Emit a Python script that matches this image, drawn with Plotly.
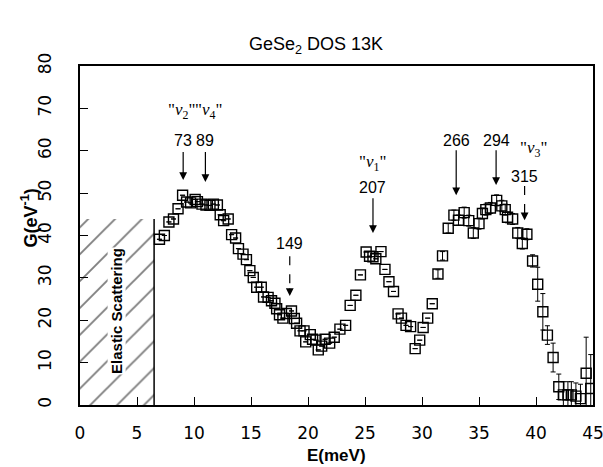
import plotly.graph_objects as go

# ---- data ----
energy = [6.97, 7.4, 7.8, 8.2, 8.6, 9.0, 9.35, 9.7, 10.1, 10.3,
          10.7, 11.05, 11.4, 11.7, 12.05, 12.3, 12.6, 13.0, 13.3, 13.65,
          13.9, 14.3, 14.6, 14.9, 15.2, 15.5, 15.9, 16.1, 16.5, 16.8,
          17.1, 17.25, 17.5, 17.8, 18.1, 18.55, 18.8, 19.0, 19.3, 19.65,
          19.8, 20.2, 20.4, 20.7, 20.9, 21.2, 21.5, 21.9, 22.3, 22.8,
          23.3, 23.7, 24.2, 24.6, 25.1, 25.4, 25.7, 25.95, 26.4, 26.75,
          27.1, 27.5, 27.9, 28.2, 28.6, 29.0, 29.4, 29.8, 30.1, 30.5,
          30.9, 31.4, 31.8, 32.3, 32.8, 33.2, 33.7, 34.1, 34.5, 35.0,
          35.3, 35.6, 36.0, 36.55, 37.0, 37.3, 37.5, 37.95, 38.4, 38.8,
          39.2, 39.7, 40.15, 40.6, 41.0, 41.5, 42.0, 42.4, 42.8, 43.1,
          43.5, 43.9, 44.4, 44.8]
dos = [39.1, 40.0, 43.2, 43.9, 46.3, 49.5, 47.9, 47.7, 48.5, 48.0,
       47.4, 47.2, 47.1, 47.4, 47.2, 44.9, 43.5, 43.9, 40.2, 39.4,
       36.9, 35.6, 34.3, 31.7, 30.1, 27.8, 27.8, 25.5, 25.4, 24.6,
       24.0, 22.7, 21.3, 20.5, 21.6, 22.2, 20.4, 19.3, 17.5, 17.5,
       14.9, 16.6, 15.5, 15.3, 13.0, 13.9, 15.5, 14.6, 16.0, 17.9,
       18.8, 23.5, 25.9, 30.7, 36.1, 35.1, 35.0, 34.5, 36.2, 32.0,
       29.1, 26.8, 21.5, 20.5, 18.8, 18.5, 13.3, 15.3, 18.3, 20.5,
       23.9, 30.9, 35.2, 41.7, 44.8, 43.6, 45.4, 43.5, 40.6, 42.8,
       45.2, 46.1, 46.5, 48.3, 47.0, 46.1, 44.3, 43.9, 40.6, 38.1,
       40.3, 34.0, 28.5, 22.0, 16.5, 11.2, 4.3, 2.4, 2.4, 2.4,
       2.1, 1.5, 7.5, 3.9]
err = [0] * 71 + [1.0, 1.0, 1.1, 1.2, 1.2, 1.3, 1.3, 1.3, 1.3,
                  1.3, 1.3, 1.3, 1.3, 1.3, 1.3, 1.3, 1.3, 1.3, 1.3,
                  1.3, 1.45, 4.0, 4.3, 2.2, 3.4, 3.0, 3.1, 3.1, 3.1,
                  3.1, 3.4, 8.5, 8.0]

elastic_edge = 6.5
elastic_top = 43.9

# peak markers: label, energy, arrow top, arrow tip, dashed, label height
peak_labels = ["73", "89", "149", "207", "266", "294", "315"]
peak_x = [9.05, 11.0, 18.4, 25.7, 33.0, 36.5, 39.0]
peak_from = [59.7, 59.7, 35.1, 48.8, 60.1, 60.1, 51.7]
peak_to = [53.1, 52.6, 25.7, 40.6, 49.5, 51.9, 43.6]
peak_dash = [False, False, True, False, False, False, True]
peak_label_y = [62.5, 62.5, 38.0, 51.4, 62.5, 62.5, 54.0]

mode_labels = ['"<i>ν</i><sub>2</sub>"', '"<i>ν</i><sub>4</sub>"',
               '"<i>ν</i><sub>1</sub>"', '"<i>ν</i><sub>3</sub>"']
mode_x = [8.9, 11.3, 25.7, 39.8]
mode_y = [69.3, 69.3, 57.2, 60.3]

x_range = [0, 45]
y_range = [0, 80]
x_ticks = [0, 5, 10, 15, 20, 25, 30, 35, 40, 45]
y_ticks = [0, 10, 20, 30, 40, 50, 60, 70, 80]

fig = go.Figure()

# elastic scattering hatched region
fig.add_trace(go.Scatter(
    x=[0, elastic_edge, elastic_edge, 0, 0],
    y=[0, 0, elastic_top, elastic_top, 0],
    mode="lines", fill="toself",
    line=dict(width=0, color="rgba(0,0,0,0)"),
    fillcolor="white",
    fillpattern=dict(shape="/", size=19, solidity=0.1,
                     fgcolor="black", bgcolor="white"),
    hoverinfo="skip", showlegend=False))

fig.add_trace(go.Scatter(
    x=[elastic_edge, elastic_edge], y=[0, elastic_top],
    mode="lines", line=dict(color="black", width=1.5),
    hoverinfo="skip", showlegend=False))

fig.add_trace(go.Scatter(
    x=energy, y=dos, mode="markers",
    marker=dict(symbol="square-open", size=10, color="black",
                line=dict(width=1.4, color="black")),
    error_y=dict(type="data", array=err, visible=True,
                 color="black", thickness=1, width=2.5),
    showlegend=False))

# arrows
for lab, x, y0, y1, dsh, ly in zip(peak_labels, peak_x, peak_from,
                                    peak_to, peak_dash, peak_label_y):
    fig.add_trace(go.Scatter(
        x=[x, x], y=[y0, y1 + 1.5], mode="lines",
        line=dict(color="black", width=1.2, dash="dash" if dsh else "solid"),
        hoverinfo="skip", showlegend=False))
    fig.add_annotation(x=x, y=y1, ax=0, ay=-9, showarrow=True,
                       arrowhead=2, arrowsize=1.3, arrowwidth=1.2,
                       arrowcolor="black", text="")
    fig.add_annotation(x=x, y=ly, text=lab, showarrow=False,
                       font=dict(family="Liberation Sans", size=16,
                                 color="black"))

for lab, x, y in zip(mode_labels, mode_x, mode_y):
    fig.add_annotation(x=x, y=y, text=lab, showarrow=False,
                       font=dict(family="Liberation Serif", size=17,
                                 color="black"))

fig.add_annotation(x=elastic_edge / 2, y=22.2, text="<b>Elastic Scattering</b>",
                   textangle=-90, showarrow=False, bgcolor="white",
                   borderpad=0,
                   font=dict(family="Liberation Sans Narrow, Liberation Sans",
                             size=15, color="black"))

# titles
fig.add_annotation(xref="paper", yref="paper", x=0.46, y=1.0, yshift=21,
                   xanchor="center", yanchor="middle",
                   text="GeSe<sub>2</sub> DOS 13K", showarrow=False,
                   font=dict(family="Liberation Sans", size=18, color="black"))
fig.add_annotation(xref="paper", yref="paper", x=0, xshift=-50, y=0.55,
                   xanchor="center", yanchor="middle",
                   text="<b>G(eV<sup>-1</sup>)</b>", textangle=-90,
                   showarrow=False,
                   font=dict(family="Liberation Sans", size=18, color="black"))
fig.add_annotation(xref="paper", yref="paper", x=0.5, y=0, yshift=-50,
                   xanchor="center", yanchor="middle",
                   text="<b>E(meV)</b>", showarrow=False,
                   font=dict(family="Liberation Sans", size=17, color="black"))

axis_font = dict(family="DejaVu Sans", size=17, color="black")
fig.update_xaxes(range=x_range, tickvals=x_ticks, ticks="inside", ticklen=8,
                 tickwidth=1.2, tickcolor="black", showline=True, linewidth=2,
                 linecolor="black", mirror=True, showgrid=False,
                 zeroline=False, tickfont=axis_font, automargin=False,
                 ticklabelstandoff=12, ticklabeloverflow="allow")
fig.update_yaxes(range=y_range, tickvals=y_ticks, ticks="inside", ticklen=8,
                 tickwidth=1.2, tickcolor="black", showline=True, linewidth=2,
                 linecolor="black", mirror=True, showgrid=False,
                 zeroline=False, tickfont=axis_font, tickangle=-90,
                 ticklabelstandoff=20, automargin=False)

fig.update_layout(width=603, height=467, plot_bgcolor="white",
                  paper_bgcolor="white",
                  margin=dict(l=80, r=10, t=66, b=62))

fig.write_html("out.html")
